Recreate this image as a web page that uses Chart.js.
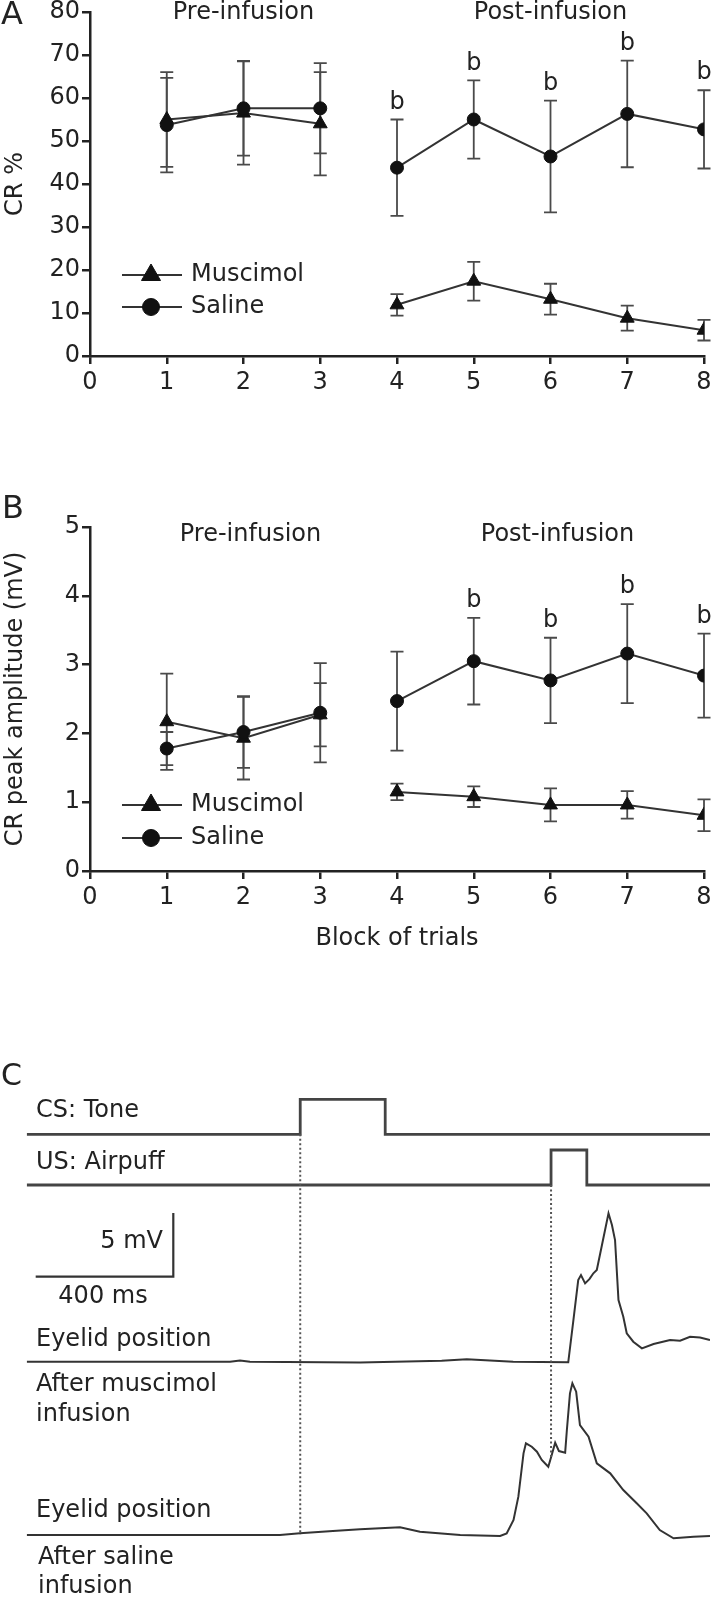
<!DOCTYPE html>
<html>
<head>
<meta charset="utf-8">
<script src="https://cdn.jsdelivr.net/npm/chart.js@4.4.1/dist/chart.umd.min.js"></script>
<style>
  body { margin: 0; background: #fff; }
  #page { position: relative; width: 714px; height: 1597px; overflow: hidden; background: #fff; }
  canvas { position: absolute; left: 0; }
</style>
</head>
<body>
<div id="page">
  <canvas id="chartA" width="714" height="410" style="top:0px"></canvas>
  <canvas id="chartB" width="714" height="490" style="top:470px"></canvas>
  <canvas id="chartC" width="714" height="557" style="top:1040px"></canvas>
</div>
<script>
// ---- data ----
let blocks = [1, 2, 3, 4, 5, 6, 7, 8];
let phases = ["Pre-infusion", "Post-infusion"];
let groups = ["Muscimol", "Saline"];

// panel A, CR %
let musA = [55, 56.5, 54, 11.9, 17.4, 13.2, 8.8, 6.0];
let musErrA = [11, 12, 12, 2.5, 4.5, 3.6, 2.9, 2.4];
let salA = [53.7, 57.6, 57.6, 43.8, 55.0, 46.4, 56.3, 52.7];
let salErrA = [11, 11, 10.5, 11.2, 9.1, 13.0, 12.4, 9.1];
let sigA = ["", "", "", "b", "b", "b", "b", "b"];

// panel B, CR peak amplitude (mV)
let musB = [2.17, 1.93, 2.27, 1.15, 1.08, 0.96, 0.96, 0.81];
let musErrB = [0.70, 0.60, 0.46, 0.12, 0.15, 0.24, 0.20, 0.23];
let salB = [1.78, 2.02, 2.30, 2.47, 3.05, 2.77, 3.16, 2.84];
let salErrB = [0.24, 0.52, 0.72, 0.72, 0.63, 0.62, 0.72, 0.61];
let sigB = ["", "", "", "", "b", "b", "b", "b"];

// panel C, stimulus timing (ms) and eyelid traces (mV)
let csTime = [0, 795, 795, 1042, 1042, 1986];
let csLevel = [0, 0, 1, 1, 0, 0];
let usTime = [0, 1524, 1524, 1628, 1628, 1986];
let usLevel = [0, 0, 1, 1, 0, 0];

let musTime = [0, 358, 591, 620, 649, 969, 1206, 1279, 1414, 1574, 1589, 1603, 1611, 1623, 1636, 1647, 1657, 1672, 1691, 1701, 1710, 1720, 1734, 1744, 1763, 1788, 1822, 1870, 1899, 1928, 1957, 1986];
let musMV = [0, 0, 0, 0.09, 0, -0.06, 0.08, 0.19, 0, -0.05, 3.27, 6.41, 6.8, 6.15, 6.5, 6.94, 7.2, 9.16, 11.65, 10.73, 9.55, 4.84, 3.53, 2.23, 1.57, 1.05, 1.39, 1.70, 1.65, 1.96, 1.9, 1.70];

let salTime = [0, 358, 736, 794, 890, 969, 1085, 1143, 1260, 1376, 1395, 1415, 1429, 1444, 1451, 1468, 1483, 1497, 1516, 1526, 1536, 1547, 1565, 1570, 1579, 1586, 1597, 1608, 1633, 1657, 1696, 1734, 1773, 1802, 1840, 1880, 1938, 1986];
let salMV = [0, 0, 0, 0.13, 0.31, 0.45, 0.60, 0.26, 0, -0.08, 0.13, 1.18, 3.01, 6.41, 7.20, 6.93, 6.54, 5.89, 5.36, 6.28, 7.24, 6.59, 6.46, 8.24, 11.12, 11.91, 11.25, 8.63, 7.72, 5.63, 4.84, 3.53, 2.49, 1.70, 0.39, -0.26, -0.13, -0.08];

let scaleBarMs = 400;
let scaleBarMV = 5;

// ---- style ----
const ink = "#222";
const lineInk = "#333";
const family = "'DejaVu Sans', sans-serif";
function font(size) { return size + "px " + family; }
Chart.defaults.font.family = family;
Chart.defaults.color = ink;

function pts(xs, ys) { return xs.map((x, i) => ({ x: x, y: ys[i] })); }

function groupDataset(label, vals, style, radius) {
  return {
    label: label,
    data: pts(blocks, vals),
    borderColor: lineInk,
    borderWidth: 2,
    pointStyle: style,
    pointRadius: radius,
    pointBackgroundColor: "#111",
    pointBorderColor: "#111",
    pointBorderWidth: 1,
    segment: {
      // pre and post infusion blocks are not joined
      borderColor: c => (c.p0.parsed.x === 3 ? "rgba(0,0,0,0)" : lineInk)
    }
  };
}

function panelDeco(p) {
  return {
    id: "deco" + p.letter,
    beforeDatasetsDraw(chart) {
      const { ctx } = chart;
      const x = chart.scales.x, y = chart.scales.y;
      ctx.save();
      ctx.strokeStyle = "#4a4a4a";
      ctx.lineWidth = 1.8;
      [[p.mus, p.musErr], [p.sal, p.salErr]].forEach(([vals, errs]) => {
        vals.forEach((v, i) => {
          const px = x.getPixelForValue(blocks[i]);
          const hi = y.getPixelForValue(v + errs[i]);
          const lo = y.getPixelForValue(v - errs[i]);
          ctx.beginPath();
          ctx.moveTo(px, hi); ctx.lineTo(px, lo);
          ctx.moveTo(px - 6.5, hi); ctx.lineTo(px + 6.5, hi);
          ctx.moveTo(px - 6.5, lo); ctx.lineTo(px + 6.5, lo);
          ctx.stroke();
        });
      });
      ctx.restore();
    },
    afterDraw(chart) {
      const { ctx } = chart;
      const x = chart.scales.x, y = chart.scales.y;
      ctx.save();
      ctx.fillStyle = ink;
      ctx.font = font(24);
      ctx.textAlign = "center";
      ctx.textBaseline = "middle";
      p.sig.forEach((s, i) => {
        if (!s) return;
        ctx.fillText(s, x.getPixelForValue(blocks[i]), y.getPixelForValue(p.sal[i] + p.salErr[i]) - 17);
      });
      ctx.fillText(phases[0], x.getPixelForValue(2) + p.headDx, p.headY);
      ctx.fillText(phases[1], x.getPixelForValue(6) + p.headDx, p.headY);

      // legend
      const marks = [["triangle", 11], ["circle", 8.5]];
      groups.forEach((g, k) => {
        const ly = p.legendY[k];
        ctx.strokeStyle = lineInk;
        ctx.lineWidth = 2;
        ctx.beginPath();
        ctx.moveTo(122, ly); ctx.lineTo(182, ly);
        ctx.stroke();
        ctx.fillStyle = "#111";
        ctx.strokeStyle = "#111";
        ctx.lineWidth = 1;
        Chart.helpers.drawPoint(ctx, { pointStyle: marks[k][0], radius: marks[k][1], rotation: 0, borderWidth: 1 }, 151, ly);
        ctx.fillStyle = ink;
        ctx.textAlign = "left";
        ctx.fillText(g, 191, ly);
      });

      ctx.textAlign = "left";
      ctx.font = font(32);
      ctx.fillText(p.letter, p.letterX, p.letterY);
      ctx.restore();
    }
  };
}

function panelConfig(p) {
  return {
    type: "line",
    data: {
      datasets: [
        groupDataset(groups[1], p.sal, "circle", 6.5),
        groupDataset(groups[0], p.mus, "triangle", 8)
      ]
    },
    options: {
      responsive: false,
      animation: false,
      layout: { padding: { top: p.padTop, right: 10, left: 0, bottom: 0 } },
      plugins: { legend: { display: false }, tooltip: { enabled: false } },
      scales: {
        x: {
          type: "linear", min: 0, max: 8,
          ticks: { stepSize: 1, padding: 7, color: ink, font: { size: 24, lineHeight: 1 } },
          grid: { drawOnChartArea: false, tickLength: 8, color: ink, lineWidth: 2.5 },
          border: { color: ink, width: 2.5 },
          title: { display: !!p.xTitle, text: p.xTitle || "", color: ink, font: { size: 24 }, padding: { top: 0, bottom: 7 } },
          afterFit: s => { s.height = p.xHeight; s.paddingLeft = 0; s.paddingRight = 0; }
        },
        y: {
          min: 0, max: p.yMax,
          ticks: { stepSize: p.yStep, padding: 2, color: ink, font: { size: 24, lineHeight: 1 } },
          grid: { drawOnChartArea: false, tickLength: 8, color: ink, lineWidth: 2.5 },
          border: { color: ink, width: 2.5 },
          title: { display: true, text: p.yTitle, color: ink, font: { size: 24 }, padding: 1 },
          afterFit: s => { s.width = 90; s.paddingTop = 0; s.paddingBottom = 0; }
        }
      }
    },
    plugins: [panelDeco(p)]
  };
}

new Chart(document.getElementById("chartA"), panelConfig({
  letter: "A", letterX: 1, letterY: 16,
  mus: musA, musErr: musErrA, sal: salA, salErr: salErrA, sig: sigA,
  yMax: 80, yStep: 10, yTitle: "CR %",
  padTop: 12, xHeight: 54, headY: 13, headDx: 0,
  legendY: [275, 307]
}));

new Chart(document.getElementById("chartB"), panelConfig({
  letter: "B", letterX: 2, letterY: 40,
  mus: musB, musErr: musErrB, sal: salB, salErr: salErrB, sig: sigB,
  yMax: 5, yStep: 1, yTitle: "CR peak amplitude (mV)", xTitle: "Block of trials",
  padTop: 57, xHeight: 89, headY: 65, headDx: 7,
  legendY: [335, 368]
}));

// ---- panel C ----
const cTop = 1090, cBottom = 1597, cCanvasTop = 1040;
function traceAxis(baseline, pxPerUnit) {
  return { display: false, min: -(cBottom - baseline) / pxPerUnit, max: (baseline - cTop) / pxPerUnit };
}
const mvPx = 12.74;

function traceSet(xs, ys, axis, width, color) {
  return { data: pts(xs, ys), yAxisID: axis, borderColor: color, borderWidth: width, pointRadius: 0 };
}

function valueAt(xs, ys, t) {
  for (let i = 1; i < xs.length; i++) {
    if (xs[i] >= t) {
      const f = (t - xs[i - 1]) / (xs[i] - xs[i - 1] || 1);
      return ys[i - 1] + f * (ys[i] - ys[i - 1]);
    }
  }
  return ys[ys.length - 1];
}

const decoC = {
  id: "decoC",
  afterDatasetsDraw(chart) {
    const { ctx, scales } = chart;
    const x = scales.x;
    const off = cCanvasTop;
    ctx.save();
    // dotted onset markers
    ctx.strokeStyle = "#555";
    ctx.lineWidth = 2;
    ctx.setLineDash([2, 2.5]);
    const csX = x.getPixelForValue(csTime[1]);
    ctx.beginPath();
    ctx.moveTo(csX, scales.yCS.getPixelForValue(0));
    ctx.lineTo(csX, scales.ySal.getPixelForValue(0));
    ctx.stroke();
    const usX = x.getPixelForValue(usTime[1]);
    ctx.beginPath();
    ctx.moveTo(usX, scales.yUS.getPixelForValue(0));
    ctx.lineTo(usX, scales.ySal.getPixelForValue(valueAt(salTime, salMV, usTime[1])));
    ctx.stroke();
    ctx.setLineDash([]);

    // scale bar
    const barW = x.getPixelForValue(scaleBarMs) - x.getPixelForValue(0);
    const barH = scales.yMus.getPixelForValue(0) - scales.yMus.getPixelForValue(scaleBarMV);
    const cx = 173.3, cy = 1276.7 - off;
    ctx.strokeStyle = "#333";
    ctx.lineWidth = 2.2;
    ctx.beginPath();
    ctx.moveTo(cx - barW, cy); ctx.lineTo(cx, cy); ctx.lineTo(cx, cy - barH);
    ctx.stroke();

    ctx.fillStyle = ink;
    ctx.font = font(24);
    ctx.textBaseline = "middle";
    ctx.textAlign = "right";
    ctx.fillText("5 mV", 163, 1242 - off);
    ctx.textAlign = "center";
    ctx.fillText("400 ms", 103, 1297 - off);
    ctx.textAlign = "left";
    const labels = [
      ["CS: Tone", 36, 1111], ["US: Airpuff", 36, 1163],
      ["Eyelid position", 36, 1340], ["After muscimol", 36, 1385], ["infusion", 36, 1415],
      ["Eyelid position", 36, 1511], ["After saline", 38, 1558], ["infusion", 38, 1587]
    ];
    labels.forEach(([t, lx, ly]) => ctx.fillText(t, lx, ly - off));
    ctx.font = font(30);
    ctx.fillText("C", 1, 1077 - off);
    ctx.restore();
  }
};

new Chart(document.getElementById("chartC"), {
  type: "line",
  data: {
    datasets: [
      traceSet(csTime, csLevel, "yCS", 2.8, "#444"),
      traceSet(usTime, usLevel, "yUS", 2.8, "#444"),
      traceSet(musTime, musMV, "yMus", 2, "#333"),
      traceSet(salTime, salMV, "ySal", 2, "#333")
    ]
  },
  options: {
    responsive: false,
    animation: false,
    layout: { padding: { top: cTop - cCanvasTop, bottom: 0, left: 26.7, right: 4 } },
    plugins: { legend: { display: false }, tooltip: { enabled: false } },
    scales: {
      x: { type: "linear", display: false, min: 0, max: 1986 },
      yCS: traceAxis(1134.3, 35),
      yUS: traceAxis(1185, 35),
      yMus: traceAxis(1361.7, mvPx),
      ySal: traceAxis(1535, mvPx)
    }
  },
  plugins: [decoC]
});
</script>
</body>
</html>
